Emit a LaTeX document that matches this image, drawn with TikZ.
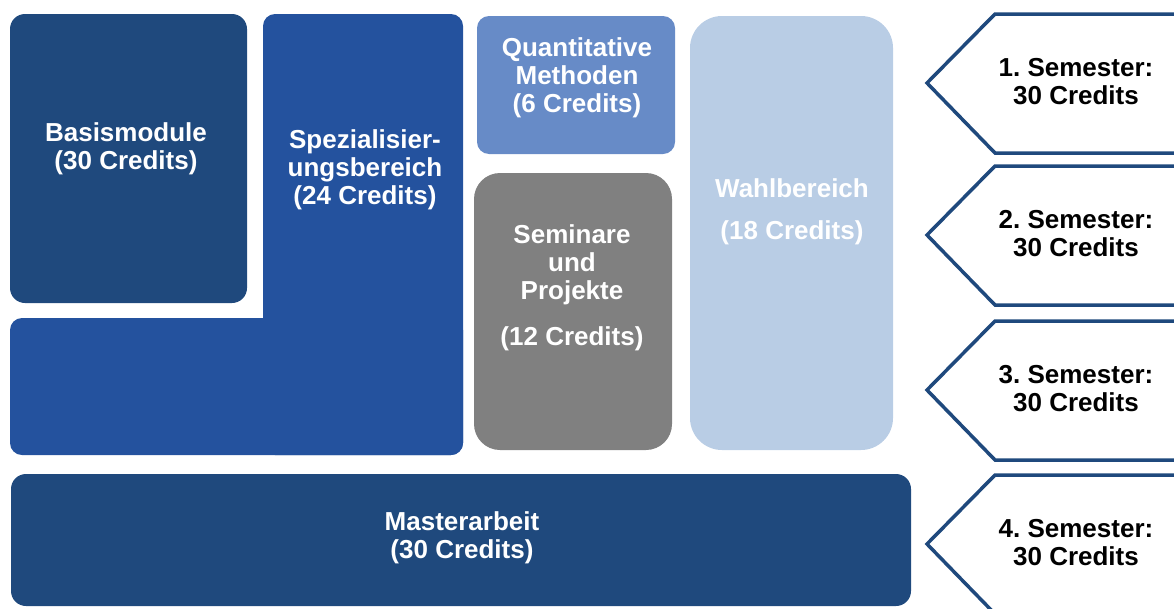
\documentclass[tikz,border=0pt]{standalone}
\usepackage{fontspec}
\setmainfont{Liberation Sans}
\usepackage{tikz}

\definecolor{darkblue}{RGB}{31,73,125}
\definecolor{midblue}{RGB}{36,82,158}
\definecolor{lightblue}{RGB}{103,139,199}
\definecolor{paleblue}{RGB}{185,205,229}
\definecolor{greybox}{RGB}{128,128,128}

\begin{document}
\begin{tikzpicture}[x=1pt,y=-1pt,
	txt/.style={align=center,font=\fontsize{26}{28}\selectfont\bfseries,text=white,inner sep=0pt},
	chevron/.style={draw=darkblue,line width=3.5pt,line join=miter}]
	\clip (0,0) rectangle (1174,608);
	% module blocks
	\fill[darkblue,rounded corners=15pt] (10,14) rectangle (247,303);
	\fill[midblue,rounded corners=12pt] (263,14) rectangle (463,455);
	\fill[midblue,rounded corners=12pt] (10,318) rectangle (463,455);
	\fill[lightblue,rounded corners=12pt] (477,16) rectangle (675,154);
	\fill[greybox,rounded corners=26pt] (474,173) rectangle (672,450);
	\fill[paleblue,rounded corners=32pt] (690,16) rectangle (893,450);
	\fill[darkblue,rounded corners=15pt] (11,474) rectangle (911,606);
	\node[txt] (basis) at (126,149) {Basismodule\\(30 Credits)};
	\node[txt] (spez) at (365,170) {Spezialisier-\\ungsbereich\\(24 Credits)};
	\node[txt] (quant) at (577,78) {Quantitative\\Methoden\\(6 Credits)};
	\node[txt] (sem) at (572,288) {Seminare\\und\\Projekte\\[18pt](12 Credits)};
	\node[txt] (wahl) at (792,212) {Wahlbereich\\[14pt](18 Credits)};
	\node[txt] (master) at (462,538) {Masterarbeit\\(30 Credits)};
	% semester arrows
	\foreach \top/\n in {14/1,166/2,321/3,475/4}{
		\draw[chevron] (1180,\top) -- (995,\top) -- (927,\top+69) -- (995,\top+139) -- (1180,\top+139);
		\node[txt,text=black] (semester\n) at (1076,\top+68) {\n.\ Semester:\\30 Credits};
	}
\end{tikzpicture}
\end{document}
